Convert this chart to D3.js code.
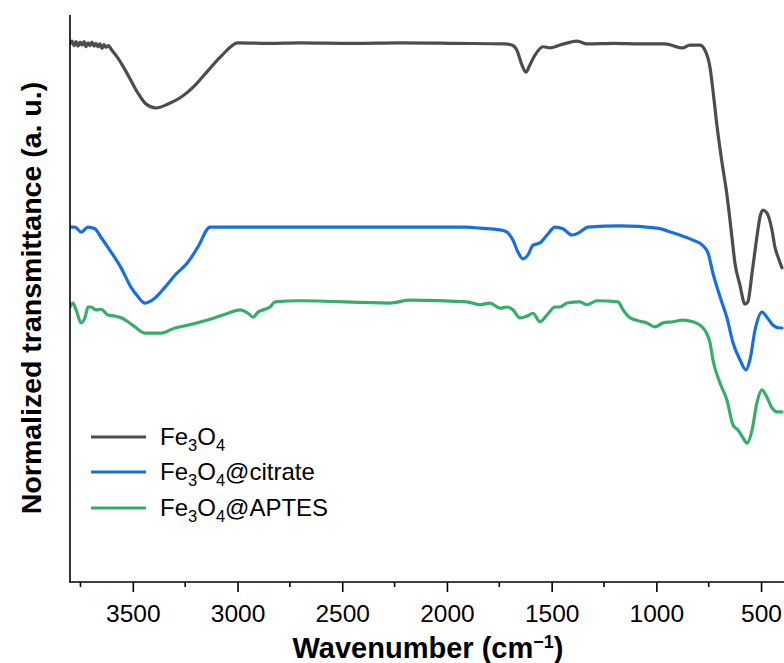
<!DOCTYPE html>
<html>
<head>
<meta charset="utf-8">
<script src="https://cdn.jsdelivr.net/npm/d3@7/dist/d3.min.js"></script>
<style>
  html, body { margin: 0; padding: 0; background: #fff; }
  svg { display: block; font-family: "Liberation Sans", Arial, sans-serif; }
</style>
</head>
<body>
<svg id="chart" width="784" height="663"></svg>
<script>
// FTIR spectra: [wavenumber (cm-1), normalized transmittance]
const fe3o4 = [
  [3800, 94.9], [3790, 95.4], [3781, 94.6], [3771, 95.3], [3762, 94.5], [3752, 95.2],
  [3743, 94.7], [3733, 95.3], [3724, 94.4], [3714, 95.1], [3705, 94.6], [3695, 95.2],
  [3685, 94.5], [3676, 95.0], [3666, 94.4], [3657, 94.9], [3647, 94.1], [3638, 94.8],
  [3628, 94.3], [3616, 94.6], [3604, 94.0], [3571, 92.4],
  [3523, 89.4], [3475, 86.2], [3437, 84.3], [3389, 83.6], [3332, 84.3], [3270, 85.5],
  [3203, 87.6], [3141, 90.2], [3079, 92.7], [2998, 95.1], [2850, 95.0], [2702, 95.1],
  [2450, 95.0], [2224, 95.1], [1950, 95.0], [1723, 94.9], [1690, 94.7], [1666, 93.8],
  [1642, 91.2], [1623, 89.9], [1604, 91.2], [1580, 92.9], [1541, 94.4], [1508, 94.2],
  [1460, 94.7], [1379, 95.4], [1331, 94.9], [1200, 95.0], [1078, 94.9], [960, 94.9],
  [873, 94.2], [840, 94.7], [792, 94.7], [768, 93.8], [744, 90.8], [730, 86.8],
  [711, 80.6], [687, 74.1], [663, 68.3], [639, 60.8], [625, 56.3], [601, 52.4],
  [577, 49.0], [563, 49.4], [543, 54.5], [520, 60.8], [505, 64.4], [491, 65.6],
  [472, 65.1], [448, 62.1], [434, 59.1], [419, 57.3], [400, 55.4]
];

const fe3o4Citrate = [
  [3800, 62.6], [3776, 62.6], [3747, 61.7], [3714, 62.6], [3681, 62.3], [3652, 60.8],
  [3604, 58.2], [3556, 55.4], [3509, 52.0], [3475, 50.3], [3442, 49.2], [3394, 50.1],
  [3346, 52.0], [3299, 54.1], [3237, 56.4], [3189, 59.1], [3131, 62.6], [2900, 62.6],
  [2702, 62.6], [2300, 62.6], [1904, 62.6], [1842, 62.4], [1747, 62.1], [1713, 61.7],
  [1685, 60.3], [1661, 58.2], [1637, 57.0], [1613, 57.7], [1589, 59.4], [1556, 59.8],
  [1522, 61.2], [1484, 62.6], [1446, 62.3], [1403, 61.2], [1365, 61.7], [1327, 62.6],
  [1174, 62.8], [997, 62.4], [921, 61.6], [873, 61.0], [825, 60.3], [777, 59.3],
  [753, 58.0], [730, 54.5], [696, 50.3], [663, 46.6], [634, 42.2], [601, 39.2],
  [572, 37.4], [553, 39.2], [529, 44.4], [496, 47.6], [472, 46.7], [443, 45.3],
  [410, 44.8], [400, 44.8]
];

const fe3o4Aptes = [
  [3800, 48.5], [3786, 49.2], [3771, 48.0], [3747, 45.7], [3728, 46.7], [3714, 48.5],
  [3700, 48.5], [3676, 48.0], [3652, 48.1], [3619, 47.1], [3585, 46.9], [3556, 46.6],
  [3523, 45.9], [3490, 45.0], [3442, 43.9], [3394, 43.9], [3365, 43.9], [3299, 44.8],
  [3237, 45.3], [3174, 45.9], [3108, 46.6], [3046, 47.4], [2988, 48.0], [2950, 47.4],
  [2926, 46.7], [2902, 47.6], [2869, 48.1], [2845, 48.5], [2821, 49.4], [2702, 49.6],
  [2272, 49.2], [2177, 49.7], [1904, 49.4], [1842, 48.9], [1795, 49.2], [1747, 48.3],
  [1713, 48.5], [1685, 48.0], [1651, 46.6], [1618, 46.9], [1589, 47.4], [1556, 45.9],
  [1522, 47.1], [1484, 48.5], [1460, 48.5], [1427, 49.2], [1365, 49.4], [1331, 48.9],
  [1284, 49.6], [1183, 49.4], [1159, 48.0], [1126, 46.6], [1078, 46.0], [1045, 45.7],
  [1007, 45.0], [968, 45.7], [921, 45.9], [873, 46.2], [825, 45.9], [777, 44.8],
  [744, 42.2], [730, 39.2], [696, 35.1], [663, 32.1], [634, 27.7], [610, 26.8],
  [586, 25.4], [567, 24.5], [543, 26.8], [520, 31.6], [496, 33.9], [472, 32.6],
  [448, 30.7], [424, 30.0], [400, 30.0]
];

const seriesNames = ["Fe3O4", "Fe3O4@citrate", "Fe3O4@APTES"];
const seriesColors = ["#4d4d4d", "#1a6fdf", "#37ad6b"];
const majorTicks = [3500, 3000, 2500, 2000, 1500, 1000, 500];
const minorTicks = [3750, 3250, 2750, 2250, 1750, 1250, 750];

const svg = d3.select("#chart");
const plotLeft = 70, plotRight = 782, plotTop = 15, plotBottom = 582;

const x = d3.scaleLinear().domain([3800, 400]).range([plotLeft, plotRight]);
const y = d3.scaleLinear().domain([0, 100]).range([plotBottom, plotTop]);

svg.append("defs").append("clipPath").attr("id", "plot-clip")
  .append("rect").attr("x", plotLeft).attr("y", 0)
  .attr("width", 784 - plotLeft).attr("height", plotBottom);

const line = d3.line()
  .x(d => x(d[0]))
  .y(d => y(d[1]))
  .curve(d3.curveMonotoneX);

const spectra = [fe3o4, fe3o4Citrate, fe3o4Aptes];
const plot = svg.append("g").attr("clip-path", "url(#plot-clip)");
spectra.forEach((s, i) => {
  plot.append("path")
    .datum(s)
    .attr("d", line)
    .attr("fill", "none")
    .attr("stroke", seriesColors[i])
    .attr("stroke-width", 3.2)
    .attr("stroke-linejoin", "round")
    .attr("stroke-linecap", "round");
});

// x axis with major and minor ticks
const xAxis = svg.append("g").attr("transform", `translate(0,${plotBottom})`);
xAxis.call(d3.axisBottom(x).tickValues(majorTicks).tickSize(10).tickPadding(13).tickFormat(d3.format("d")));
xAxis.select(".domain").remove();
xAxis.append("line").attr("x1", plotLeft - 1).attr("x2", 784).attr("y1", 0).attr("y2", 0)
  .attr("stroke", "#000").attr("stroke-width", 1.6);
xAxis.selectAll(".tick line").attr("stroke", "#000").attr("stroke-width", 1.6);
xAxis.selectAll(".tick text").attr("font-size", 24.5).attr("fill", "#000")
  .attr("font-family", "Liberation Sans, Arial, sans-serif");
xAxis.selectAll(".minor").data(minorTicks).enter().append("line")
  .attr("class", "minor")
  .attr("x1", d => x(d)).attr("x2", d => x(d))
  .attr("y1", 0).attr("y2", 5)
  .attr("stroke", "#000").attr("stroke-width", 1.6);

// y axis line (no ticks)
svg.append("line").attr("x1", plotLeft).attr("x2", plotLeft).attr("y1", plotTop).attr("y2", plotBottom)
  .attr("stroke", "#000").attr("stroke-width", 1.6);

// axis titles
const xTitle = svg.append("text")
  .attr("x", 428).attr("y", 658)
  .attr("text-anchor", "middle").attr("font-size", 29).attr("font-weight", "bold");
xTitle.append("tspan").text("Wavenumber (cm");
xTitle.append("tspan").attr("dy", -10).attr("font-size", 18).text("\u22121");
xTitle.append("tspan").attr("dy", 10).text(")");

svg.append("text")
  .attr("transform", "translate(41,298) rotate(-90)")
  .attr("text-anchor", "middle").attr("font-size", 28.5).attr("font-weight", "bold")
  .text("Normalized transmittance (a. u.)");

// legend
const legendY = [437, 472, 508];
const legend = svg.append("g");
seriesNames.forEach((name, i) => {
  const g = legend.append("g");
  g.append("line").attr("x1", 91).attr("x2", 146).attr("y1", legendY[i]).attr("y2", legendY[i])
    .attr("stroke", seriesColors[i]).attr("stroke-width", 3.2);
  const t = g.append("text").attr("x", 160).attr("y", legendY[i] + 8).attr("font-size", 24);
  const m = name.match(/^Fe3O4(.*)$/);
  t.append("tspan").text("Fe");
  t.append("tspan").attr("dy", 6).attr("font-size", 16.5).text("3");
  t.append("tspan").attr("dy", -6).text("O");
  t.append("tspan").attr("dy", 6).attr("font-size", 16.5).text("4");
  t.append("tspan").attr("dy", -6).text(m[1]);
});
</script>
</body>
</html>
